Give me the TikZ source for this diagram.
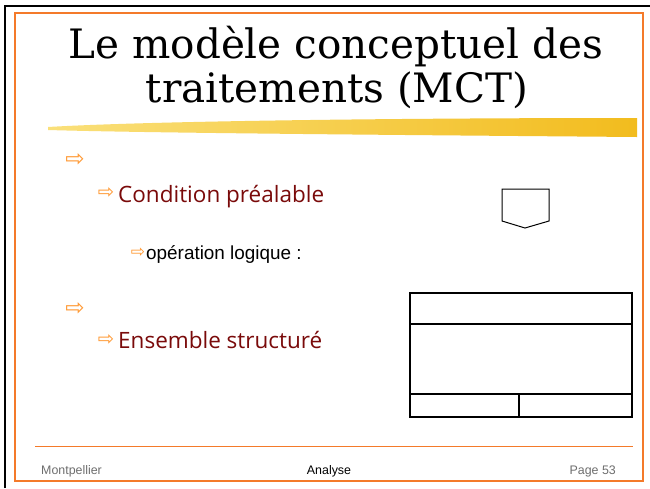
\documentclass[tikz,border=0pt]{standalone}
\usepackage{fontspec}
\usepackage{tikz}
\setmainfont{DejaVu Serif}
\setsansfont{Liberation Sans}
\newfontfamily\comicfont{Open Sans}
\newfontfamily\symfont{DejaVu Sans}
\definecolor{frameorange}{HTML}{F47A2A}
\definecolor{bulletorange}{HTML}{FF9933}
\definecolor{darkred}{HTML}{7A0A0A}
\definecolor{brushyellow}{HTML}{F2BC1E}
\definecolor{brushlight}{HTML}{FAE07A}
\definecolor{footgray}{HTML}{6E6E6E}
\tikzset{
  bul/.style={text=bulletorange, inner sep=0pt, font=\symfont\fontsize{23}{23}\selectfont},
  subbul/.style={bul, font=\symfont\fontsize{19.5}{19.5}\selectfont},
  item/.style={anchor=base west, inner sep=0pt},
  foot/.style={anchor=base, inner sep=0pt, font=\sffamily\fontsize{12.4}{12.4}\selectfont}
}

\begin{document}
\begin{tikzpicture}[x=1pt,y=-1pt]
      \useasboundingbox (0,0) rectangle (650,488);
      \fill[white] (0,0) rectangle (650,488);
      % frames
      \draw[line width=2.5pt] (5,488) -- (5,6) -- (650,6);
      \draw[frameorange, line width=1.4pt] (15,13) rectangle (643,481);

      % title
      \node[anchor=base, inner sep=0pt, font=\fontsize{40.5}{40.5}\selectfont] (title1) at (336,58) {Le modèle conceptuel des};
      \node[anchor=base, inner sep=0pt, font=\fontsize{40.5}{40.5}\selectfont] (title2) at (337,102) {traitements (MCT)};

      % brush stroke
      \shade[left color=brushlight, middle color=brushyellow!70!brushlight, right color=brushyellow]
        (48,127) .. controls (150,121) and (400,118) .. (637,118)
        -- (637,137) .. controls (400,135) and (150,133) .. (48,130) -- cycle;

      % bullets
      \node[bul] (b1) at (75,160) {⇨};
      \node[subbul] (b11) at (106,193) {⇨};
      \node[item, text=darkred, font=\comicfont\fontsize{22.5}{22.5}\selectfont] (cond) at (118,202) {Condition préalable};
      \node[bul, font=\symfont\fontsize{17}{17}\selectfont] (b111) at (138,253) {⇨};
      \node[item, font=\sffamily\fontsize{18.9}{18.9}\selectfont] (oper) at (146,259) {opération logique :};
      \node[bul] (b2) at (75,309) {⇨};
      \node[subbul] (b21) at (106,340) {⇨};
      \node[item, text=darkred, font=\comicfont\fontsize{22.5}{22.5}\selectfont] (ens) at (118,348) {Ensemble structuré};

      % condition symbol
      \draw[line width=1pt] (502,189) -- (549,189) -- (549,221) -- (525,228) -- (502,221) -- cycle;

      % structured set symbol
      \draw[line width=1.3pt] (410,293) rectangle (632,417);
      \draw[line width=1.3pt] (410,324) -- (632,324);
      \draw[line width=1.3pt] (410,394) -- (632,394);
      \draw[line width=1.3pt] (519,394) -- (519,417);

      % footer
      \draw[frameorange, line width=1pt] (35,446) -- (633,446);
      \node[foot, anchor=base west, text=footgray] (place) at (41,474) {Montpellier};
      \node[foot] (course) at (329,474) {Analyse};
      \node[foot, anchor=base east, text=footgray] (page) at (616,474) {Page 53};
\end{tikzpicture}
\end{document}
